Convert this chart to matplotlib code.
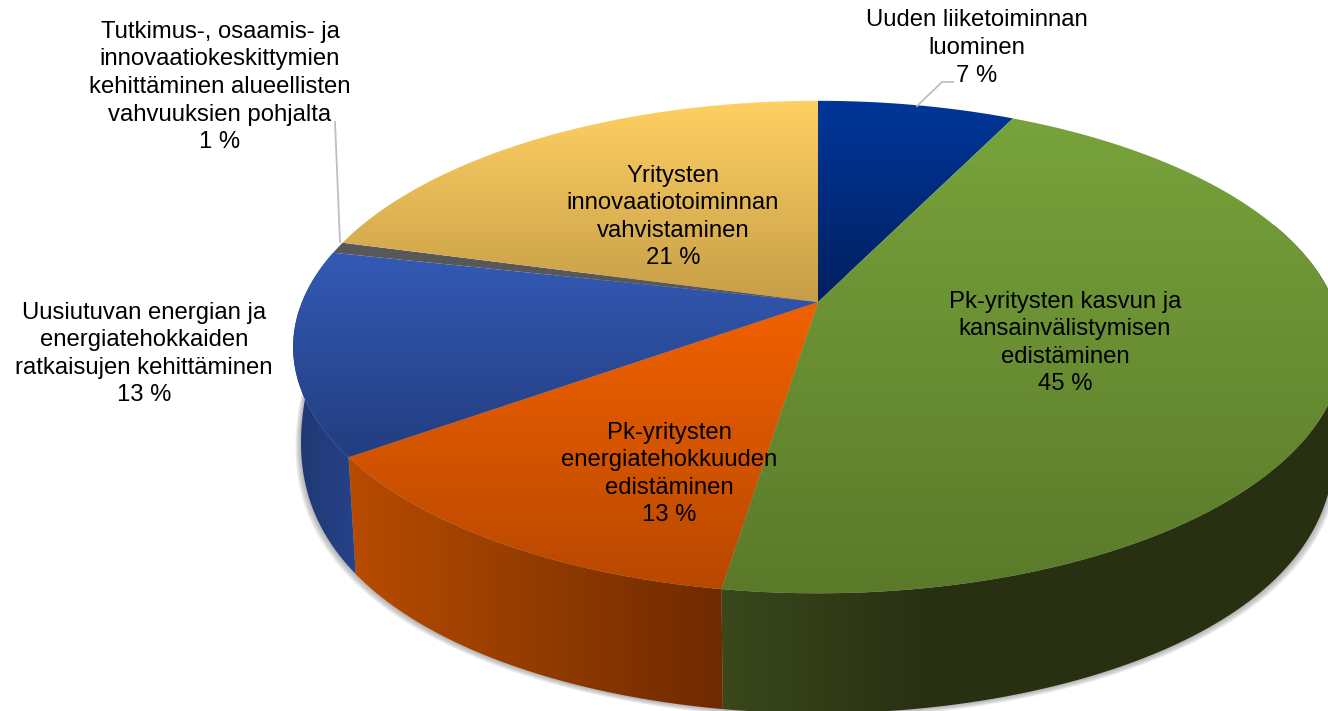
import numpy as np
import matplotlib
matplotlib.use("Agg")
import matplotlib.pyplot as plt
from matplotlib.path import Path
from matplotlib.patches import PathPatch
from matplotlib.colors import to_rgb

# data, clockwise from 12 o'clock
nimet = ["Uuden liiketoiminnan\nluominen",
         "Pk-yritysten kasvun ja\nkansainvälistymisen\nedistäminen",
         "Pk-yritysten\nenergiatehokkuuden\nedistäminen",
         "Uusiutuvan energian ja\nenergiatehokkaiden\nratkaisujen kehittäminen",
         "Tutkimus-, osaamis- ja\ninnovaatiokeskittymien\nkehittäminen alueellisten\nvahvuuksien pohjalta",
         "Yritysten\ninnovaatiotoiminnan\nvahvistaminen"]
osuudet = [7.25, 45.2, 12.65, 13.35, 0.75, 20.8]
prosentit = ["7 %", "45 %", "13 %", "13 %", "1 %", "21 %"]

# colours (top of gradient -> bottom of gradient)
barvy_top = [("#00369a", "#00205f"), ("#78a33b", "#5a7a2a"), ("#f26100", "#b84800"),
             ("#335ab5", "#233d80"), ("#58585a", "#58585a"), ("#ffd062", "#c69e48")]
# walls, left -> right
barvy_bok = {1: ("#3a481c", "#283012", "#283012", "#283012"),
             2: ("#b84c00", "#6e2a00"),
             3: ("#1f3870", "#26428a")}

# layout in pixels
CX, CY = 818, 302
R, H, P = 516, 238, 0.183
SX = 0.985
pozice = [(977, 48), (1065, 343), (669, 474), (144, 354), (220, 87), (673, 217)]
FS = 17.2


def top_xy(t):
    u, v = np.sin(t), np.cos(t)
    w = 1 + P * v
    return CX + R * u / w, CY - H * v / w


def bottom_xy(t):
    # wall gets shorter towards the back
    x, y = top_xy(t)
    return CX + SX * (x - CX), y + 120 - 45 * (1 + np.cos(t)) ** 3


def gradient(ax, verts, barvy, svisle=True, zorder=1):
    verts = np.asarray(verts)
    patch = PathPatch(Path(np.vstack([verts, verts[0]]), closed=True), fc="none", ec="none",
                      transform=ax.transData)
    ax.add_patch(patch)
    s = np.linspace(0, 1, 256)
    stops = np.linspace(0, 1, len(barvy))
    rgb = np.array([to_rgb(c) for c in barvy])
    img = np.column_stack([np.interp(s, stops, rgb[:, k]) for k in range(3)])
    img = img[:, None, :] if svisle else img[None, :, :]
    x0, x1 = verts[:, 0].min(), verts[:, 0].max()
    y0, y1 = verts[:, 1].min(), verts[:, 1].max()
    im = ax.imshow(img, extent=(x0, x1, y1, y0), origin="upper", aspect="auto",
                   interpolation="bilinear", zorder=zorder)
    im.set_clip_path(patch)


fig = plt.figure(figsize=(13.28, 7.11), dpi=100)
ax = fig.add_axes([0, 0, 1, 1])
plt.rcParams["font.family"] = ["Liberation Sans", "DejaVu Sans"]

podily = np.array(osuudet) / sum(osuudet)
hrany = np.concatenate([[0], np.cumsum(podily)]) * 2 * np.pi

# soft shadow under the body
tt = np.linspace(np.radians(75), np.radians(285), 300)
for i in range(6, 0, -1):
    bx, by = bottom_xy(tt)
    ax.fill(CX + (bx - CX) * (1 + i * 0.0018), by + i * 0.8, color="#808080", alpha=0.12, lw=0, zorder=0.5)

# side walls
for i, barvy in barvy_bok.items():
    t1 = max(hrany[i], np.radians(70))
    t2 = min(hrany[i + 1], np.radians(290))
    t = np.linspace(t1, t2, 200)
    tx, ty = top_xy(t)
    bx, by = bottom_xy(t[::-1])
    verts = np.column_stack([np.r_[tx, bx], np.r_[ty, by]])
    gradient(ax, verts, barvy, svisle=False, zorder=1)

# top faces
for i in range(len(osuudet)):
    t = np.linspace(hrany[i], hrany[i + 1], 200)
    tx, ty = top_xy(t)
    verts = np.column_stack([np.r_[CX, tx], np.r_[CY, ty]])
    gradient(ax, verts, barvy_top[i], zorder=2)

# leader lines
ax.plot([917, 942, 953], [106, 82, 82], color="#bfbfbf", lw=1.3, zorder=3)
ax.plot([335, 340], [122, 242], color="#bfbfbf", lw=1.3, zorder=3)

for nazev, pct, (x, y) in zip(nimet, prosentit, pozice):
    ax.text(x, y, nazev + "\n" + pct, ha="center", va="center", ma="center",
            fontsize=FS, linespacing=1.33, color="#000000", zorder=4)

ax.set_xlim(0, 1328)
ax.set_ylim(711, 0)
ax.axis("off")
fig.savefig("out.png", dpi=100, facecolor="white")
